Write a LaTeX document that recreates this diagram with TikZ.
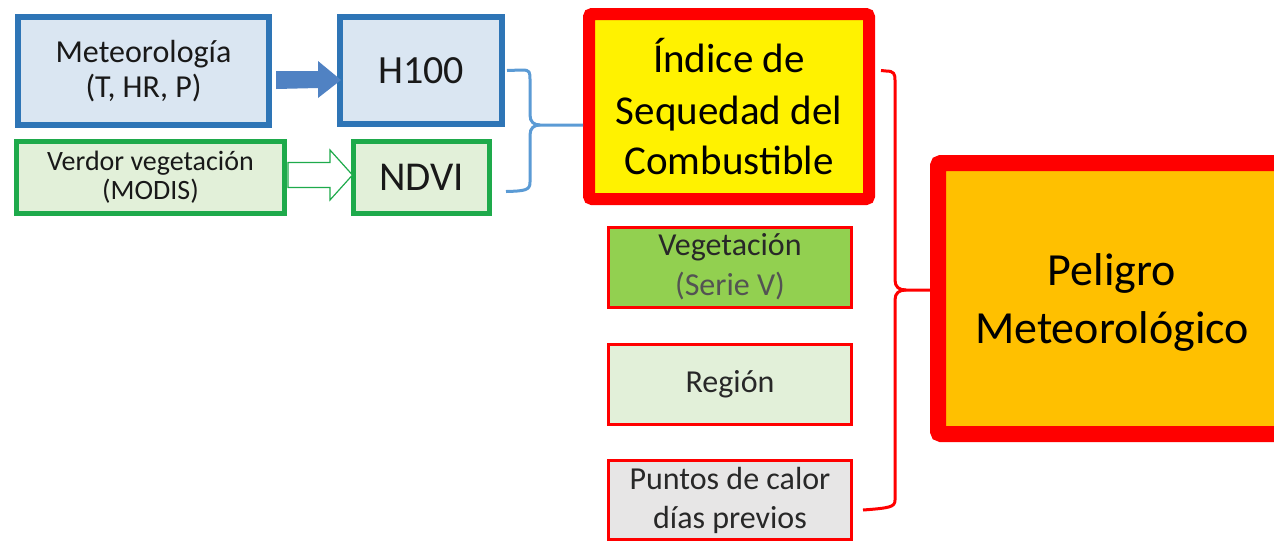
\documentclass[tikz,border=0pt]{standalone}
\usepackage{fontspec}
\setmainfont{Carlito}
\usetikzlibrary{calc}
\definecolor{bblue}{RGB}{46,117,182}
\definecolor{bfill}{RGB}{218,230,242}
\definecolor{ggreen}{RGB}{30,170,75}
\definecolor{gfill}{RGB}{226,240,217}
\definecolor{vgreen}{RGB}{146,208,80}
\definecolor{pgrey}{RGB}{231,230,230}
\definecolor{orng}{RGB}{255,192,0}
\definecolor{ltblue}{RGB}{91,155,213}
\definecolor{arrblue}{RGB}{80,130,195}
\definecolor{txt}{RGB}{25,25,25}
\definecolor{txtg}{RGB}{40,40,40}
\tikzset{
  bluebox/.style={draw=bblue, line width=6pt, fill=bfill, rectangle, inner sep=0pt, align=center, text=txt},
  greenbox/.style={draw=ggreen, line width=5pt, fill=gfill, rectangle, inner sep=0pt, align=center, text=txt},
  smallred/.style={draw=red, line width=3pt, rectangle, inner sep=0pt, align=center, text=txtg, minimum width=243pt, minimum height=80pt},
  bigred/.style={draw=red, rectangle, rounded corners=3pt, inner sep=0pt, align=center, text=black},
  bracebl/.style={draw=ltblue, line width=3pt},
  bracered/.style={draw=red, line width=3pt},
}
\begin{document}
\begin{tikzpicture}[x=1pt,y=-1pt]
\useasboundingbox[fill=white] (0,0) rectangle (1274,542);
% left blue/green boxes
\node[bluebox, minimum width=251pt, minimum height=108pt, font=\fontsize{32}{35}\selectfont] (met) at (143.5,71)
  {Meteorología\\(T, HR, P)};
\node[bluebox, minimum width=162pt, minimum height=107pt, font=\fontsize{40}{44}\selectfont] (h100) at (421,70.5)
  {H100};
\node[greenbox, minimum width=268pt, minimum height=72pt, font=\fontsize{28}{29}\selectfont] (verd) at (150.5,177.5)
  {Verdor vegetación\\(MODIS)};
\node[greenbox, minimum width=136pt, minimum height=72pt, font=\fontsize{41}{44}\selectfont] (ndvi) at (421.5,177.5)
  {NDVI};
% block arrows
\coordinate (a1s) at ($(met.east)+(4,9)$);
\coordinate (a2s) at ($(verd.east)+(1,-2.5)$);
\fill[arrblue] ($(a1s)+(0,-9)$) -- ++(42,0) -- ++(0,-10) -- ($(h100.west)+(4,9.5)$)
  -- ($(a1s)+(42,18)$) -- ++(0,-10) -- ($(a1s)+(0,9)$) -- cycle;
\draw[ggreen, fill=white, line width=1.2pt, line join=miter]
  ($(a2s)+(0,-12.5)$) -- ++(42,0) -- ++(0,-12.5) -- ($(ndvi.west)+(1.5,-2.5)$)
  -- ($(a2s)+(42,25)$) -- ++(0,-12.5) -- ($(a2s)+(0,12.5)$) -- cycle;
% yellow box
\node[bigred, line width=12pt, fill=yellow, minimum width=280pt, minimum height=185pt, font=\fontsize{41}{50}\selectfont] (isc) at (729,106.5)
  {\raisebox{2pt}{Índice de}\\Sequedad del\\Combustible};
% small red boxes
\node[smallred, fill=vgreen, font=\fontsize{32}{40}\selectfont] (veg) at (730,267)
  {Vegetación\\\color{txtg!80}(Serie V)};
\node[smallred, fill=gfill, font=\fontsize{32}{40}\selectfont] (reg) at (730,384)
  {Región};
\node[smallred, fill=pgrey, minimum height=79pt, font=\fontsize{32}{39}\selectfont] (pun) at (730,500)
  {Puntos de calor\\días previos};
% big orange box
\node[bigred, line width=16pt, fill=orng, minimum width=352pt, minimum height=271pt] (pel) at (1114,298.5) {};
\node[align=center, inner sep=0pt, font=\fontsize{46}{58}\selectfont] (peltxt) at ($(pel.center)+(-2,3.5)$)
  {Peligro\\Meteorológico};
% blue brace
\coordinate (bt) at ($(h100.east)+(2,0)$);
\coordinate (bb) at ($(ndvi.east)+(14,14)$);
\path[bracebl] (bt) -- (522,70) .. controls (530,70) and (530,72) .. (530,80)
  -- (530,115) .. controls (530,122) and (534,125) .. (540,125) -- (isc.west |- 0,125);
\path[bracebl] (540,125) .. controls (534,125) and (530,128) .. (530,135)
  -- (530,182) .. controls (530,190) and (526,191) .. (bb);
% red brace
\coordinate (rt) at ($(isc.east)+(6,-36)$);
\coordinate (rb) at ($(pun.east)+(10,10)$);
\path[bracered] (rt) -- (886,71) .. controls (894,71) and (895,74) .. (895,80)
  -- (895,280) .. controls (895,287) and (899,290) .. (906,290) -- (pel.west |- 0,290);
\path[bracered] (906,290) .. controls (899,290) and (895,293) .. (895,300)
  -- (895,500) .. controls (895,507) and (890,508) .. (rb);
\end{tikzpicture}
\end{document}
